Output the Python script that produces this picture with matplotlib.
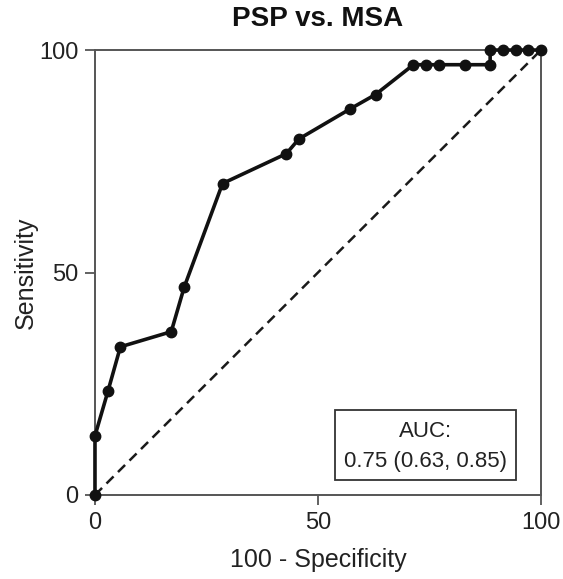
import matplotlib.pyplot as plt
from matplotlib.patches import Rectangle

plt.rcParams['font.family'] = ['Liberation Sans', 'DejaVu Sans']

# ROC points: 100 - specificity (x) and sensitivity (y), in percent
fpr = [0, 0, 2.9, 5.7, 17.1, 20.0, 28.6, 42.9, 45.7, 57.1, 62.9,
       71.4, 74.3, 77.1, 82.9, 88.6, 88.6, 91.4, 94.3, 97.1, 100]
tpr = [0, 13.3, 23.3, 33.3, 36.7, 46.7, 70.0, 76.7, 80.0, 86.7, 90.0,
       96.7, 96.7, 96.7, 96.7, 96.7, 100, 100, 100, 100, 100]

ticks = [0, 50, 100]
title = 'PSP vs. MSA'
auc_text = 'AUC:'
auc_ci = '0.75 (0.63, 0.85)'

fig = plt.figure(figsize=(5.63, 5.79), dpi=100)
ax = fig.add_axes([0.1687, 0.1451, 0.7922, 0.7685])

# chance line
ax.plot([0, 100], [0, 100], color='#1a1a1a', lw=1.8, ls=(0, (4, 2.5)), zorder=2)
ax.plot(fpr, tpr, color='#111111', lw=2.6, marker='o', markersize=7.5,
        clip_on=False, zorder=3)

ax.set_xlim(0, 100)
ax.set_ylim(0, 100)
ax.set_xticks(ticks)
ax.set_yticks(ticks)
ax.tick_params(labelsize=17, colors='#555555', labelcolor='#222222',
               length=7, width=1.3, direction='out', pad=5)
for s in ax.spines.values():
    s.set_color('#555555')
    s.set_linewidth(1.4)

ax.set_xlabel('100 - Specificity', fontsize=18, color='#222222', labelpad=10)
ax.set_ylabel('Sensitivity', fontsize=18, color='#222222', labelpad=1)
ax.set_title(title, fontsize=20, fontweight='bold', color='#111111', pad=17)

# AUC box
ax.add_patch(Rectangle((0.538, 0.034), 0.406, 0.157, transform=ax.transAxes,
                       fill=False, edgecolor='#333333', lw=1.3, zorder=4))
ax.text(0.741, 0.142, auc_text, transform=ax.transAxes, ha='center',
        va='center', fontsize=16, color='#222222')
ax.text(0.741, 0.076, auc_ci, transform=ax.transAxes, ha='center',
        va='center', fontsize=16, color='#222222')

fig.savefig('out.png', dpi=100)
